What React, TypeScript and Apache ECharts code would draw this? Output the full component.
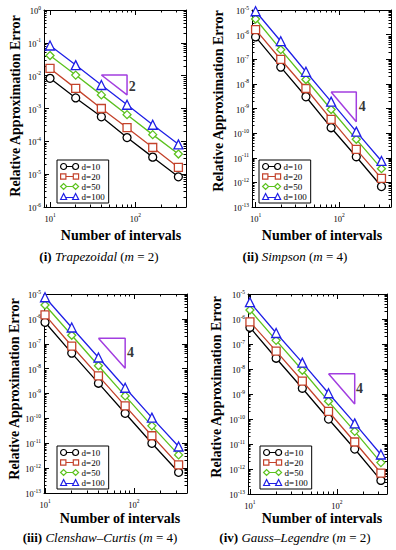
import React, { useEffect, useRef } from 'react';
import * as echarts from 'echarts';

const INTERVALS = [10, 20, 40, 80, 160, 320];
const SERIES_NAMES = ['d=10', 'd=20', 'd=50', 'd=100'];

const trapezoidalErrors = [
  [8.3e-3, 2.1e-3, 5.6e-4, 1.3e-4, 3.3e-5, 8.3e-6],
  [1.66e-2, 4.1e-3, 1.0e-3, 2.6e-4, 6.5e-5, 1.6e-5],
  [4.1e-2, 1.04e-2, 2.6e-3, 6.5e-4, 1.6e-4, 4.1e-5],
  [8.3e-2, 2.1e-2, 5.2e-3, 1.3e-3, 3.2e-4, 8.1e-5],
];
const simpsonErrors = [
  [8.1e-7, 4.8e-8, 3.0e-9, 1.66e-10, 1.1e-11, 6.8e-13],
  [1.6e-6, 9.8e-8, 6.5e-9, 3.6e-10, 2.2e-11, 1.45e-12],
  [4.3e-6, 2.45e-7, 1.5e-8, 9.1e-10, 5.6e-11, 3.6e-12],
  [8.9e-6, 5.4e-7, 3.1e-8, 1.9e-9, 1.15e-10, 7.4e-12],
];
const clenshawCurtisErrors = [
  [7.3e-7, 4.2e-8, 2.6e-9, 1.6e-10, 1.0e-11, 6.8e-13],
  [1.44e-6, 8.1e-8, 5.1e-9, 3.2e-10, 2.0e-11, 1.35e-12],
  [3.6e-6, 2.2e-7, 1.3e-8, 8.0e-10, 5.0e-11, 3.4e-12],
  [7.4e-6, 4.5e-7, 2.8e-8, 1.7e-9, 1.07e-10, 7.4e-12],
];
const gaussLegendreErrors = [
  [4.6e-7, 2.7e-8, 1.7e-9, 1.0e-10, 6.3e-12, 3.5e-13],
  [7.7e-7, 5.2e-8, 3.3e-9, 2.0e-10, 1.2e-11, 6.9e-13],
  [2.3e-6, 1.4e-7, 8.9e-9, 5.1e-10, 3.2e-11, 1.8e-12],
  [4.7e-6, 2.75e-7, 1.8e-8, 1.07e-9, 6.7e-11, 3.8e-12],
];
const PANEL_ERRORS = [trapezoidalErrors, simpsonErrors, clenshawCurtisErrors, gaussLegendreErrors];

const slopeTriangleX = [[40, 80], [80, 160], [40, 80], [80, 160]];
const slopeTriangleY = [[1.05e-2, 2.6e-3], [4.7e-9, 2.9e-10], [1.66e-7, 1.04e-8], [6.5e-9, 4.0e-10]];
const slopeOrders = ['2', '4', '4', '4'];
const slopeLabelAt = [[92, 4.6e-3], [188, 1.26e-9], [92, 4.3e-8], [182, 1.7e-9]];

const yExpRange = [[-6, 0], [-13, -5], [-13, -5], [-13, -5]];
const xRange = [[8.5, 393], [9.06, 416], [9.74, 398], [9.5, 376]];

const CAPTIONS = [
  '{b|(i)} {i|Trapezoidal} ({i|m} = 2)',
  '{b|(ii)} {i|Simpson} ({i|m} = 4)',
  '{b|(iii)} {i|Clenshaw–Curtis} ({i|m} = 4)',
  '{b|(iv)} {i|Gauss–Legendre} ({i|m} = 2)',
];
const Y_TITLE = 'Relative Approximation Error';
const X_TITLE = 'Number of intervals';

// layout
const GRIDS = [
  { left: 44, top: 10, width: 142, height: 197 },
  { left: 252, top: 10, width: 139, height: 197 },
  { left: 44, top: 294, width: 143, height: 199 },
  { left: 248, top: 294, width: 139, height: 200 },
];
const LEGEND_POS = [
  { left: 57, top: 160 },
  { left: 259, top: 160 },
  { left: 57, top: 446 },
  { left: 260, top: 446 },
];
const YTITLE_POS = [[15, 106], [218, 101], [14, 389], [216, 387]];
const XTITLE_POS = [[121, 235], [322, 235], [120, 518], [322, 518]];
const CAPTION_POS = [[99, 256], [295, 256], [100, 537], [295, 537]];

const COLORS = ['#000000', '#c4432c', '#5cc21e', '#1f1fe6'];
const SYMBOLS = ['circle', 'rect', 'diamond', 'triangle'];
const LEGEND_ICONS = [
  'path://M0,3A3,3,0,1,1,6,3A3,3,0,1,1,0,3ZM6,3L12,3M12,3A3,3,0,1,1,18,3A3,3,0,1,1,12,3Z',
  'path://M0.5,0.5H5.5V5.5H0.5ZM5.5,3H12.5M12.5,0.5H17.5V5.5H12.5Z',
  'path://M0,3L3,0L6,3L3,6ZM6,3H12M12,3L15,0L18,3L15,6Z',
  'path://M0,6L3,0L6,6ZM5,4H13M12,6L15,0L18,6Z',
];
const TRIANGLE_COLOR = '#a23ee0';
const SERIF = 'Liberation Serif';

const dec = (m: number, e: number) => Number(m + 'e' + e);

function majors(a: number, b: number) {
  const r: number[] = [];
  for (let e = a; e <= b; e++) r.push(dec(1, e));
  return r;
}
function minors(a: number, b: number, lo: number, hi: number) {
  const r: number[] = [];
  for (let e = a; e <= b; e++) for (let m = 2; m <= 9; m++) {
    const v = dec(m, e);
    if (v > lo && v < hi) r.push(v);
  }
  return r;
}

const labelFmt = (v: number) => {
  const e = Math.round(Math.log10(v));
  return '{b|10}{s|' + e + '}';
};
const labelRich = {
  b: { fontFamily: SERIF, fontSize: 8.5, color: '#000', lineHeight: 11, verticalAlign: 'bottom' },
  s: { fontFamily: SERIF, fontSize: 5.5, color: '#000', lineHeight: 11, verticalAlign: 'top' },
};

function buildOption() {
  const grid: any[] = [];
  const xAxis: any[] = [];
  const yAxis: any[] = [];
  const series: any[] = [];
  const legend: any[] = [];
  const graphic: any[] = [];

  for (let p = 0; p < 4; p++) {
    grid.push({ ...GRIDS[p], containLabel: false, show: false });
    const [xmin, xmax] = xRange[p];
    const [ea, eb] = yExpRange[p];
    const ymin = dec(1, ea);
    const ymax = dec(1, eb);
    const xMaj = [10, 100];
    const xMin = minors(0, 2, xmin, xmax);
    const yMaj = majors(ea, eb);
    const yMin = minors(ea, eb, ymin, ymax);

    const mkAxis = (pos: string, isMajor: boolean, showLabel: boolean, min: number, max: number, maj: number[], mnr: number[]) => ({
      type: 'log',
      logBase: 10,
      gridIndex: p,
      position: pos,
      min,
      max,
      offset: 0,
      axisLine: { show: isMajor, onZero: false, lineStyle: { color: '#000', width: 1 } },
      axisTick: {
        show: true,
        inside: true,
        length: isMajor ? 5 : 2.5,
        customValues: isMajor ? maj : mnr,
        lineStyle: { color: '#000', width: 1 },
      },
      axisLabel: {
        show: showLabel,
        customValues: maj,
        formatter: labelFmt,
        rich: labelRich,
        margin: pos === 'bottom' ? 5 : 3,
      },
      splitLine: { show: false },
      minorTick: { show: false },
      minorSplitLine: { show: false },
      axisPointer: { show: false },
    });

    xAxis.push(mkAxis('bottom', true, true, xmin, xmax, xMaj, xMin));
    xAxis.push(mkAxis('bottom', false, false, xmin, xmax, xMaj, xMin));
    xAxis.push(mkAxis('top', true, false, xmin, xmax, xMaj, xMin));
    xAxis.push(mkAxis('top', false, false, xmin, xmax, xMaj, xMin));
    yAxis.push(mkAxis('left', true, true, ymin, ymax, yMaj, yMin));
    yAxis.push(mkAxis('left', false, false, ymin, ymax, yMaj, yMin));
    yAxis.push(mkAxis('right', true, false, ymin, ymax, yMaj, yMin));
    yAxis.push(mkAxis('right', false, false, ymin, ymax, yMaj, yMin));

    const errs = PANEL_ERRORS[p];
    for (let k = 0; k < 4; k++) {
      series.push({
        type: 'line',
        name: SERIES_NAMES[k],
        xAxisIndex: 4 * p,
        yAxisIndex: 4 * p,
        data: INTERVALS.map((x, i) => [x, errs[k][i]]),
        symbol: SYMBOLS[k],
        symbolSize: k === 3 ? 9 : 8,
        itemStyle: { color: '#ffffff', borderColor: COLORS[k], borderWidth: 1.3 },
        lineStyle: { color: COLORS[k], width: 1.3 },
        emphasis: { disabled: true },
        z: 3 + k,
      });
    }

    const [tx1, tx2] = slopeTriangleX[p];
    const [ty1, ty2] = slopeTriangleY[p];
    series.push({
      type: 'line',
      name: 'slope' + p,
      xAxisIndex: 4 * p,
      yAxisIndex: 4 * p,
      data: [[tx1, ty1], [tx2, ty1], [tx2, ty2], [tx1, ty1]],
      symbol: 'none',
      lineStyle: { color: TRIANGLE_COLOR, width: 1.5 },
      emphasis: { disabled: true },
      z: 2,
    });
    series.push({
      type: 'scatter',
      name: 'order' + p,
      xAxisIndex: 4 * p,
      yAxisIndex: 4 * p,
      data: [slopeLabelAt[p]],
      symbolSize: 0,
      label: {
        show: true,
        position: 'inside',
        formatter: slopeOrders[p],
        fontFamily: SERIF,
        fontWeight: 'bold',
        fontSize: 14,
        color: '#000',
      },
      emphasis: { disabled: true },
      z: 2,
    });

    legend.push({
      show: true,
      orient: 'vertical',
      left: LEGEND_POS[p].left,
      top: LEGEND_POS[p].top,
      data: SERIES_NAMES.map((n, k) => ({
        name: n,
        icon: LEGEND_ICONS[k],
        itemStyle: { color: 'transparent', borderColor: COLORS[k], borderWidth: 1.2 },
      })),
      itemWidth: 18,
      itemHeight: 6,
      itemGap: 1,
      padding: [2, 4, 2, 3],
      borderColor: '#000',
      borderWidth: 1,
      borderRadius: 0,
      backgroundColor: '#ffffff',
      selectedMode: false,
      textStyle: { fontFamily: SERIF, fontSize: 9, color: '#000', padding: [0, 0, 0, -2] },
      z: 10,
    });

    graphic.push({
      type: 'text',
      x: YTITLE_POS[p][0],
      y: YTITLE_POS[p][1],
      rotation: Math.PI / 2,
      style: {
        text: Y_TITLE,
        fontFamily: SERIF,
        fontWeight: 'bold',
        fontSize: 14,
        fill: '#000',
        align: 'center',
        verticalAlign: 'middle',
      },
    });
    graphic.push({
      type: 'text',
      x: XTITLE_POS[p][0],
      y: XTITLE_POS[p][1],
      style: {
        text: X_TITLE,
        fontFamily: SERIF,
        fontWeight: 'bold',
        fontSize: 14,
        fill: '#000',
        align: 'center',
        verticalAlign: 'middle',
      },
    });
    graphic.push({
      type: 'text',
      x: CAPTION_POS[p][0],
      y: CAPTION_POS[p][1],
      style: {
        text: CAPTIONS[p],
        fontFamily: SERIF,
        fontSize: 13,
        fill: '#000',
        align: 'center',
        verticalAlign: 'middle',
        rich: {
          b: { fontFamily: SERIF, fontSize: 13, fontWeight: 'bold', fill: '#000' },
          i: { fontFamily: SERIF, fontSize: 13, fontStyle: 'italic', fill: '#000' },
        },
      },
    });
  }

  return {
    animation: false,
    backgroundColor: '#ffffff',
    grid,
    xAxis,
    yAxis,
    series,
    legend,
    graphic,
    tooltip: { show: false },
  };
}

export default function App() {
  const ref = useRef<HTMLDivElement>(null);
  useEffect(() => {
    if (!ref.current) return;
    const chart = echarts.init(ref.current, null, { renderer: 'svg' });
    chart.setOption(buildOption() as any);
    return () => chart.dispose();
  }, []);
  return (
    <div
      ref={ref}
      style={{ position: 'absolute', left: 0, top: 0, width: 396, height: 550, background: '#fff' }}
    />
  );
}
